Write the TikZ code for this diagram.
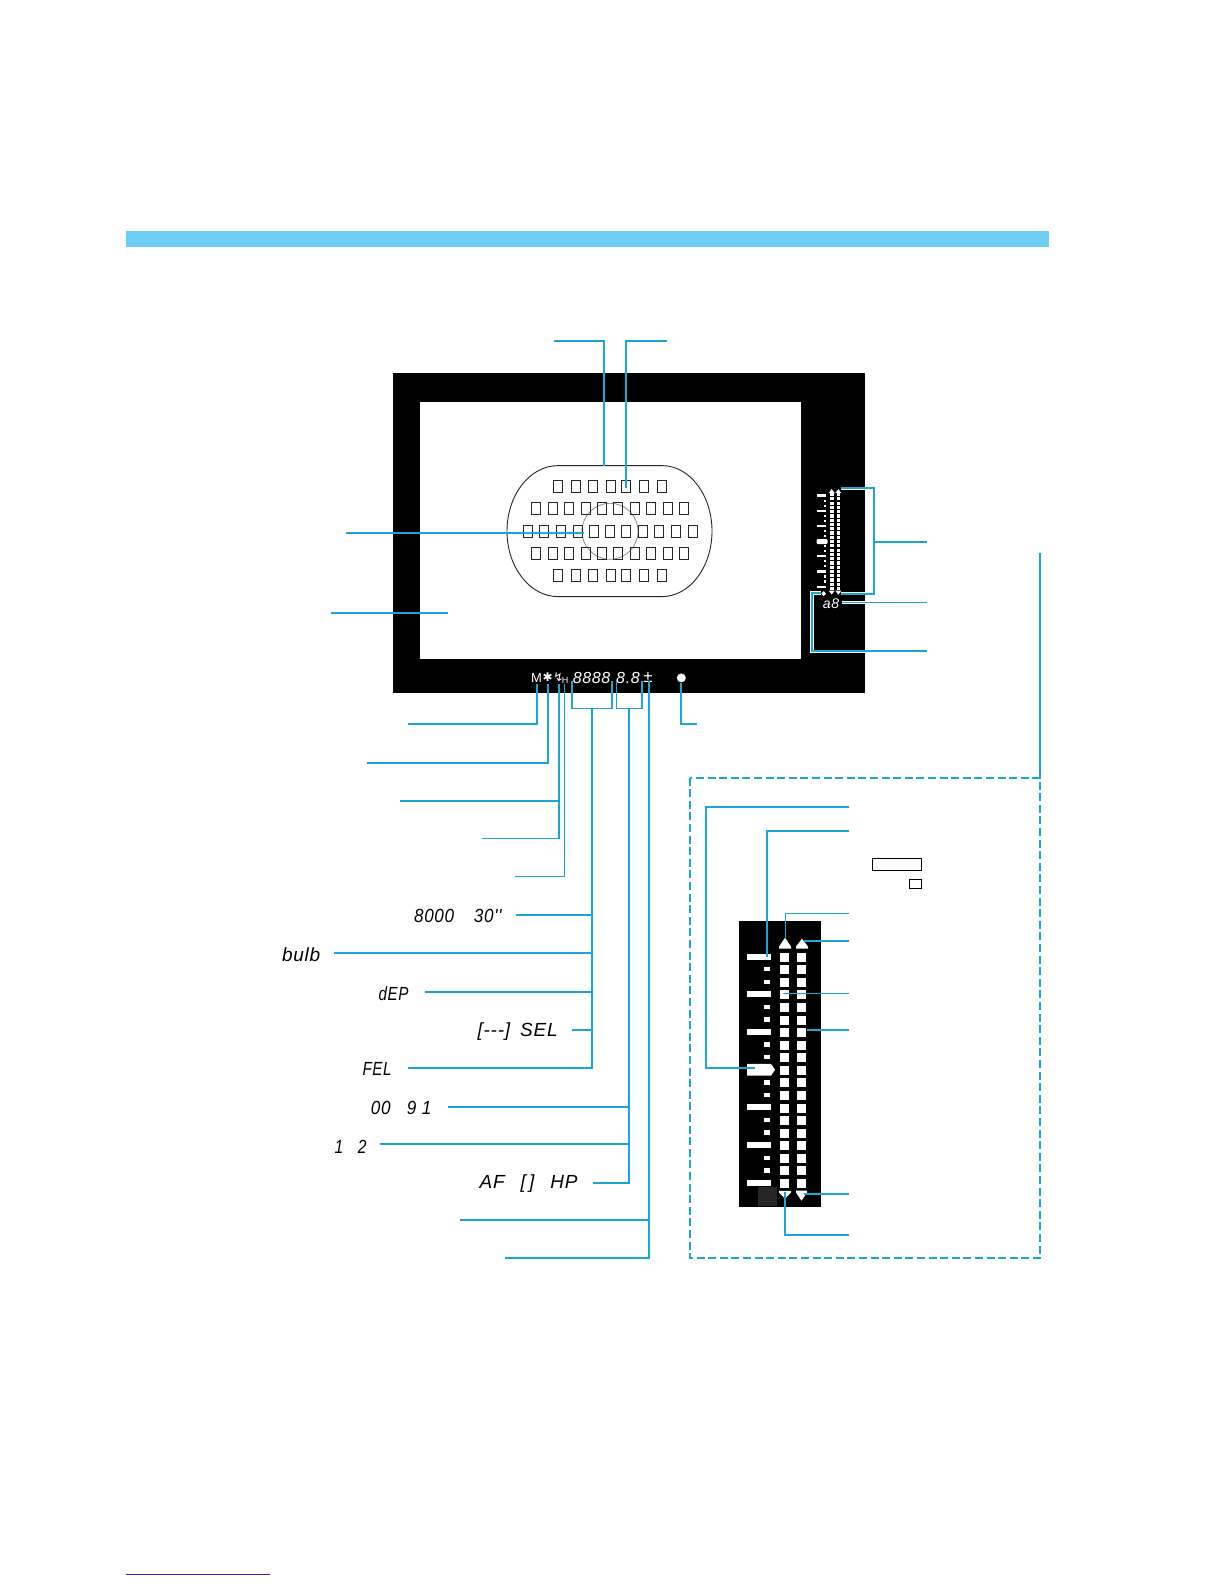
\documentclass[tikz,border=0pt]{standalone}
\usepackage{fontspec}
\usepackage{tikz}
\usetikzlibrary{positioning}
\setmainfont{Liberation Sans}
\newfontfamily\lcdfont[LetterSpace=4]{Liberation Sans}
\newfontfamily\symfont{DejaVu Sans}
\newcommand{\lcdw}[2]{\scalebox{#1}[1]{#2}}
\definecolor{leadblue}{HTML}{1AA7D6}
\definecolor{bandblue}{HTML}{6CCFF5}
\definecolor{linkblue}{HTML}{2A2AB0}
\tikzset{
	lead/.style={draw=leadblue,line width=1.05pt},
	leadthin/.style={draw=leadblue,line width=.8pt},
	halo/.style={preaction={draw=white,line width=1.8pt}},
	afbox/.style={draw=black!85,line width=.55pt,rectangle,inner sep=0pt,minimum width=4.5pt,minimum height=6.2pt},
	lcdtext/.style={inner sep=0pt,anchor=east,font=\lcdfont\itshape\fontsize{9.5}{10}\selectfont},
	lcdwhite/.style={inner sep=0pt,text=white,font=\lcdfont\itshape\fontsize{8}{8}\selectfont},
	cell/.style={fill=white,rectangle,inner sep=0pt,minimum width=4.5pt,minimum height=4.5pt},
	bigtick/.style={fill=white,rectangle,inner sep=0pt,minimum width=12pt,minimum height=3pt},
	smalltick/.style={fill=white,rectangle,inner sep=0pt,minimum width=3pt,minimum height=2.2pt},
	tinycell/.style={fill=white,rectangle,inner sep=0pt,minimum width=1.8pt,minimum height=1.6pt},
	tinybar/.style={fill=white,rectangle,inner sep=0pt,minimum width=4.5pt,minimum height=1.1pt},
	tinydot/.style={fill=white,rectangle,inner sep=0pt,minimum width=1.1pt,minimum height=1.1pt},
	keybox/.style={draw=black,line width=.5pt,rectangle,inner sep=0pt}
}

\begin{document}
\begin{tikzpicture}[x=0.5pt,y=-0.5pt]
\useasboundingbox (0,-0.6) rectangle (1224,1583.4);
% band and frame
\fill[bandblue] (126,230.4) rectangle (1049,246.4);
\fill[black] (393,372) rectangle (865,692);
\fill[white] (420,401) rectangle (801,658);
\draw[black!85,line width=.45pt] (558,465) -- (662,465) arc[start angle=-90,end angle=90,x radius=50,y radius=65.5] -- (558,596) arc[start angle=90,end angle=270,x radius=51,y radius=65.5] -- cycle;
\draw[black!45,line width=.4pt] (610,530.7) circle (28);
% focus points
\foreach \px [count=\i] in {558.3,576,593.3,610.7,626,644.3,661.7} {
	\node[afbox] (afa\i) at (\px,486) {};
	\node[afbox] (afe\i) at (\px,575) {};
}
\foreach \px [count=\i] in {535.7,552.7,568.7,585.7,601.7,618.3,634.7,651.3,667.7,684.3} {
	\node[afbox] (afb\i) at (\px,508) {};
	\node[afbox] (afd\i) at (\px,553) {};
}
\foreach \px [count=\i] in {527.7,544.3,561,577.7,593.7,610.3,626.3,643.3,659.3,676,692.7}
	\node[afbox] (afc\i) at (\px,531) {};
% viewfinder readout
\node[lcdwhite,font=\lcdfont\fontsize{6.5}{8}\selectfont] (modem) at (536.5,677) {M};
\node[lcdwhite,font=\symfont\fontsize{6}{8}\selectfont] (star) at (547.7,677) {✱};
\node[lcdwhite,font=\symfont\fontsize{6}{8}\selectfont] (flash) at (558.3,676.5) {↯};
\node[lcdwhite,font=\lcdfont\fontsize{4.5}{6}\selectfont] (hsync) at (565,679.5) {H};
\node[lcdwhite] (shutter) at (591.5,677) {8888};
\node[lcdwhite] (aperture) at (628,677) {8.8};
\node[lcdwhite,font=\lcdfont\itshape\fontsize{8.5}{8}\selectfont] (fec) at (648,677) {±};
\node[circle,fill=white,inner sep=0pt,minimum size=4.5pt] (confirm) at (681.3,677.3) {};
% small meter
\foreach \i in {0,...,22} {
	\node[tinycell] (sa\i) at (831.7,{494+4.27*\i}) {};
	\node[tinycell] (sb\i) at (838.3,{494+4.27*\i}) {};
}
\foreach \i in {1,2,4,5,6} \node[tinybar] (sbar\i) at (821.5,{495+15.17*\i}) {};
\node[tinybar,minimum height=1.6pt] (sbartop) at (821.5,495) {};
\foreach \i in {0,...,5} {
	\node[tinydot] (sdota\i) at (825.3,{500+15.17*\i}) {};
	\node[tinydot] (sdotb\i) at (825.3,{505+15.17*\i}) {};
}
\node[fill=white,rounded corners=.5pt,inner sep=0pt,minimum width=5.5pt,minimum height=2.4pt] (smark) at (822,541) {};
\fill[white] (828.7,492.5) -- (831.7,488.5) -- (834.7,492.5) -- cycle;
\fill[white] (835.3,492.5) -- (838.3,488.5) -- (841.3,492.5) -- cycle;
\fill[white] (828.7,590) -- (831.7,594) -- (834.7,590) -- cycle;
\fill[white] (835.3,590) -- (838.3,594) -- (841.3,590) -- cycle;
\node[lcdwhite,font=\lcdfont\itshape\fontsize{7}{7}\selectfont] (count) at (831,603) {a8};
% enlarged meter
\fill[black] (739,920) rectangle (820.7,1206.7);
\fill[black!85] (758,1186) rectangle (777,1205.7);
\foreach \i in {0,...,18} {
	\node[cell] (ca\i) at (784.5,{956.7+12.56*\i}) {};
	\node[cell] (cb\i) at (801.5,{956.7+12.56*\i}) {};
}
\foreach \i in {0,1,2,4,5,6} \node[bigtick] (bar\i) at (759,{956+37.7*\i}) {};
\foreach \i in {0,...,5} {
	\node[smalltick] (dota\i) at (767,{968.6+37.7*\i}) {};
	\node[smalltick] (dotb\i) at (767,{981.2+37.7*\i}) {};
}
\fill[white] (747,1063.3) -- (771,1063.3) -- (775,1069.2) -- (771,1075) -- (747,1075) -- cycle;
\fill[white] (779,948) -- (779,946) -- (785,937) -- (791,946) -- (791,948) -- cycle;
\fill[white] (796,948) -- (796,946) -- (802,938) -- (808,946) -- (808,948) -- cycle;
\fill[white] (779,1190.3) -- (791,1190.3) -- (791,1192) -- (785,1198) -- (779,1192) -- cycle;
\fill[white] (796,1190) -- (807,1190) -- (807,1192) -- (801.5,1200) -- (796,1192) -- cycle;
\node[keybox,minimum width=24.4pt,minimum height=6pt] (keywide) at (896.7,864.3) {};
\node[keybox,minimum width=6.2pt,minimum height=4.5pt] (keysmall) at (915.5,883.2) {};
% displayed segment labels
\node[lcdtext] (lone) at (502,915.7) {\lcdw{.9}{8000\hspace{11pt}30''}};
\node[lcdtext] (ltwo) at (320.7,954) {bulb};
\node[lcdtext] (lthree) at (409,992.7) {\lcdw{.8}{dEP}};
\node[lcdtext] (lfour) at (558,1030.7) {[---]\hspace{5pt}SEL};
\node[lcdtext] (lfive) at (392,1068.7) {\lcdw{.8}{FEL}};
\node[lcdtext] (lsix) at (431.7,1107.7) {\lcdw{.9}{00\hspace{9pt}9 1}};
\node[lcdtext] (lseven) at (367,1146) {\lcdw{.82}{1\hspace{9pt}2}};
\node[lcdtext] (leight) at (578,1183) {AF\hspace{8pt}[\,]\hspace{8pt}HP};
% leaders at the top
\node[coordinate] (ta) at (554,340) {};
\node[coordinate] (tb) at (603.7,465) {};
\node[coordinate] (tc) at (667,340) {};
\node[coordinate] (td) at (626,487) {};
\node[coordinate] (tk) at (603.7,340) {};
\node[coordinate] (tl) at (626,340) {};
\draw[lead] (ta) -- (tk) -- (tb);
\draw[lead] (tc) -- (tl) -- (td);
\node[coordinate] (wa) at (346,532) {};
\node[coordinate] (wb) at (584,532) {};
\draw[lead] (wa) -- (wb);
\node[coordinate] (va) at (331,612.6) {};
\node[coordinate] (vb) at (448,612.6) {};
\draw[leadthin] (va) -- (vb);
% leaders below the readout
\node[coordinate] (ma) at (536.7,683) {};
\node[coordinate] (mb) at (408,723.7) {};
\draw[lead] (ma) |- (mb);
\node[coordinate] (sta) at (547.7,683) {};
\node[coordinate] (stb) at (367.4,762) {};
\draw[lead] (sta) |- (stb);
\node[coordinate] (fa) at (558.7,683) {};
\node[coordinate] (fb) at (481.5,838) {};
\node[coordinate] (fc) at (400,800) {};
\node[coordinate] (fd) at (558.7,800) {};
\draw[leadthin] (fa) |- (fb);
\draw[lead] (fc) -- (fd);
\node[coordinate] (ha) at (564.3,683) {};
\node[coordinate] (hb) at (515,876) {};
\draw[leadthin] (ha) |- (hb);
% shutter bracket
\node[coordinate] (ba) at (571.7,680) {};
\node[coordinate] (bb) at (611.7,680) {};
\node[coordinate] (bc) at (571.7,707.7) {};
\node[coordinate] (bd) at (611.7,707.7) {};
\draw[leadthin] (ba) -- (bc) -- (bd) -- (bb);
\node[coordinate] (be) at (591.7,707.7) {};
\node[coordinate] (bz) at (408,1067) {};
\draw[lead] (be) |- (bz);
\foreach \pname/\px/\py in {bone/515.8/914.4,btwo/334/952.8,bthree/425/991,bfour/572/1029.5} {
	\node[coordinate] (\pname) at (\px,\py) {};
	\node[coordinate] (\pname s) at (591.7,\py) {};
	\draw[lead] (\pname) -- (\pname s);
}
% aperture bracket
\node[coordinate] (ca) at (616.3,680) {};
\node[coordinate] (cc) at (641.7,680) {};
\node[coordinate] (cd) at (616.3,707.7) {};
\node[coordinate] (ce) at (641.7,707.7) {};
\draw[leadthin] (ca) -- (cd) -- (ce) -- (cc);
\node[coordinate] (cf) at (629,707.7) {};
\node[coordinate] (cz) at (592.5,1182) {};
\draw[lead] (cf) |- (cz);
\foreach \pname/\px/\py in {cone/448/1106,ctwo/379.5/1143.5} {
	\node[coordinate] (\pname) at (\px,\py) {};
	\node[coordinate] (\pname s) at (629,\py) {};
	\draw[lead] (\pname) -- (\pname s);
}
% compensation and confirmation
\node[coordinate] (ea) at (648.7,680) {};
\node[coordinate] (eb) at (504.7,1257.6) {};
\node[coordinate] (ec) at (460,1219) {};
\node[coordinate] (ed) at (648.7,1219) {};
\draw[lead] (ea) |- (eb);
\draw[lead] (ec) -- (ed);
\node[coordinate] (cfz) at (697.4,723.7) {};
\draw[lead] (confirm) |- (cfz);
% leaders of the small meter
\node[coordinate] (ra) at (841,487.7) {};
\node[coordinate] (rb) at (874.3,487.7) {};
\node[coordinate] (rc) at (874.3,593) {};
\node[coordinate] (rd) at (841,593) {};
\node[coordinate] (re) at (874.3,541) {};
\node[coordinate] (rf) at (926.5,541) {};
\draw[lead,halo] (ra) -- (rb) -- (rc) -- (rd);
\draw[lead] (re) -- (rf);
\node[coordinate] (rg) at (842,602) {};
\node[coordinate] (rh) at (926.5,602) {};
\draw[leadthin,halo] (rg) -- (rh);
\node[coordinate] (ri) at (820.5,592.3) {};
\node[coordinate] (rj) at (811.7,592.3) {};
\node[coordinate] (rk) at (811.7,650.7) {};
\node[coordinate] (rl) at (926.5,650.7) {};
\draw[lead,halo] (ri) -- (rj) -- (rk) -- (rl);
\fill[white] (823.7,590.5) -- (826,593) -- (823.7,595.5) -- (821.4,593) -- cycle;
% dashed panel
\node[coordinate] (pa) at (690,777) {};
\node[coordinate] (pb) at (1040,1257.6) {};
\node[coordinate] (pc) at (1040,552) {};
\node[coordinate] (pd) at (1040,777) {};
\draw[lead,dash pattern=on 4pt off 1.8pt] (pa) rectangle (pb);
\draw[lead] (pc) -- (pd);
% leaders of the enlarged meter
\node[coordinate] (ga) at (849.3,806) {};
\node[coordinate] (gb) at (705.7,806) {};
\node[coordinate] (gc) at (705.7,1067.7) {};
\node[coordinate] (gd) at (755,1067.7) {};
\draw[lead] (ga) -- (gb) -- (gc) -- (gd);
\node[coordinate] (gf) at (849.3,830.7) {};
\node[coordinate] (gg) at (767.3,956) {};
\draw[lead] (gf) -| (gg);
\node[coordinate] (gh) at (849.3,912.7) {};
\node[coordinate] (gi) at (785.3,938) {};
\draw[leadthin] (gh) -| (gi);
\node[coordinate] (gj) at (849.3,940.7) {};
\node[coordinate] (gk) at (804,940.7) {};
\draw[lead] (gj) -- (gk);
\node[coordinate] (gl) at (849.3,993) {};
\node[coordinate] (gm) at (783,993) {};
\draw[leadthin] (gl) -- (gm);
\node[coordinate] (gn) at (849.3,1029.5) {};
\node[coordinate] (go) at (807,1029.5) {};
\draw[leadthin] (gn) -- (go);
\node[coordinate] (gp) at (849.3,1193.7) {};
\node[coordinate] (gq) at (804,1193.7) {};
\draw[lead] (gp) -- (gq);
\node[coordinate] (gr) at (849.3,1234.7) {};
\node[coordinate] (gs) at (785.3,1191.7) {};
\draw[lead] (gr) -| (gs);
% page link rule
\node[coordinate] (ua) at (126,1573.5) {};
\node[coordinate] (ub) at (269.5,1573.5) {};
\draw[linkblue,line width=.5pt] (ua) -- (ub);
\end{tikzpicture}
\end{document}
